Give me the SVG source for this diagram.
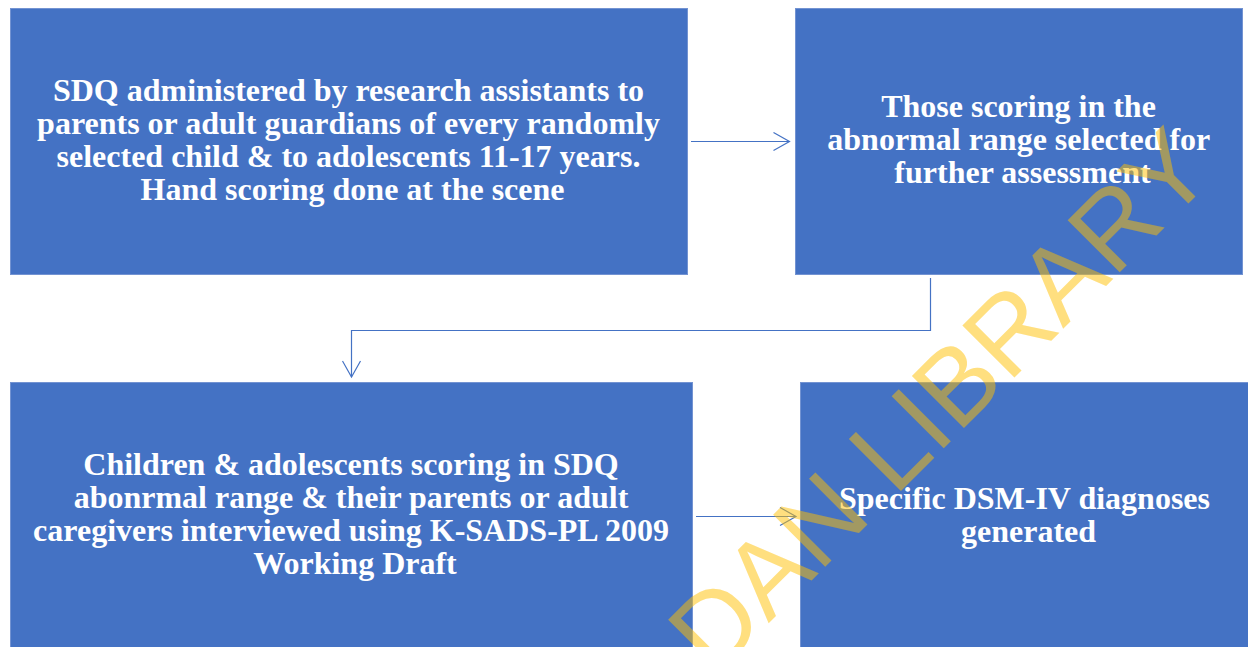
<svg xmlns="http://www.w3.org/2000/svg" width="1248" height="647" viewBox="0 0 1248 647">
  <style>
    .box { fill: #4472C4; stroke: #7393d2; stroke-width: 1; }
    .lbl { font-family: "Liberation Serif", "Times New Roman", serif; font-weight: bold; font-size: 32px; fill: #FFFFFF; text-anchor: middle; }
    .conn { fill: none; stroke: #4472C4; stroke-width: 1.2; }
    .wm { font-family: "Liberation Sans", Arial, sans-serif; font-size: 107px; fill: #FFC000; fill-opacity: 0.5; }
  </style>
  <defs>
    <marker id="open" markerUnits="userSpaceOnUse" markerWidth="20" markerHeight="20" refX="17" refY="10" orient="auto">
      <path d="M1,1 L17,10 L1,19" fill="none" stroke="#4472C4" stroke-width="1.2"/>
    </marker>
  </defs>
  <rect width="1248" height="647" fill="#FFFFFF"/>

  <g id="node-sdq">
    <rect class="box" x="10.5" y="8.5" width="677" height="266"/>
    <text class="lbl">
      <tspan x="352.5" y="101">SDQ administered by research assistants to</tspan>
      <tspan x="352.5" y="134">parents or adult guardians of every randomly</tspan>
      <tspan x="352.5" y="167">selected child &amp; to adolescents 11-17 years.</tspan>
      <tspan x="352.5" y="200">Hand scoring done at the scene</tspan>
    </text>
  </g>

  <g id="node-abnormal">
    <rect class="box" x="795.5" y="8.5" width="447" height="266"/>
    <text class="lbl">
      <tspan x="1022.5" y="117">Those scoring in the</tspan>
      <tspan x="1022.5" y="150">abnormal range selected for</tspan>
      <tspan x="1022.5" y="183">further assessment</tspan>
    </text>
  </g>

  <g id="node-interview">
    <rect class="box" x="10.5" y="382.5" width="682" height="270"/>
    <text class="lbl">
      <tspan x="355" y="475">Children &amp; adolescents scoring in SDQ</tspan>
      <tspan x="355" y="508">abonrmal range &amp; their parents or adult</tspan>
      <tspan x="355" y="541">caregivers interviewed using K-SADS-PL 2009</tspan>
      <tspan x="355" y="574">Working Draft</tspan>
    </text>
  </g>

  <g id="node-dsm">
    <rect class="box" x="800.5" y="382.5" width="452" height="270"/>
    <text class="lbl">
      <tspan x="1028.5" y="509">Specific DSM-IV diagnoses</tspan>
      <tspan x="1028.5" y="542">generated</tspan>
    </text>
  </g>

  <g id="connectors">
    <path class="conn" d="M691,141.5 L789.5,141.5" marker-end="url(#open)"/>
    <path class="conn" d="M930.5,278 L930.5,330.5 L351.5,330.5 L351.5,377" marker-end="url(#open)"/>
    <path class="conn" d="M696,516.5 L796,516.5" marker-end="url(#open)"/>
  </g>

  <g id="watermark">
    <text class="wm" x="592" y="800" transform="rotate(-45 592 800)">IBADAN LIBRARY</text>
  </g>
</svg>
